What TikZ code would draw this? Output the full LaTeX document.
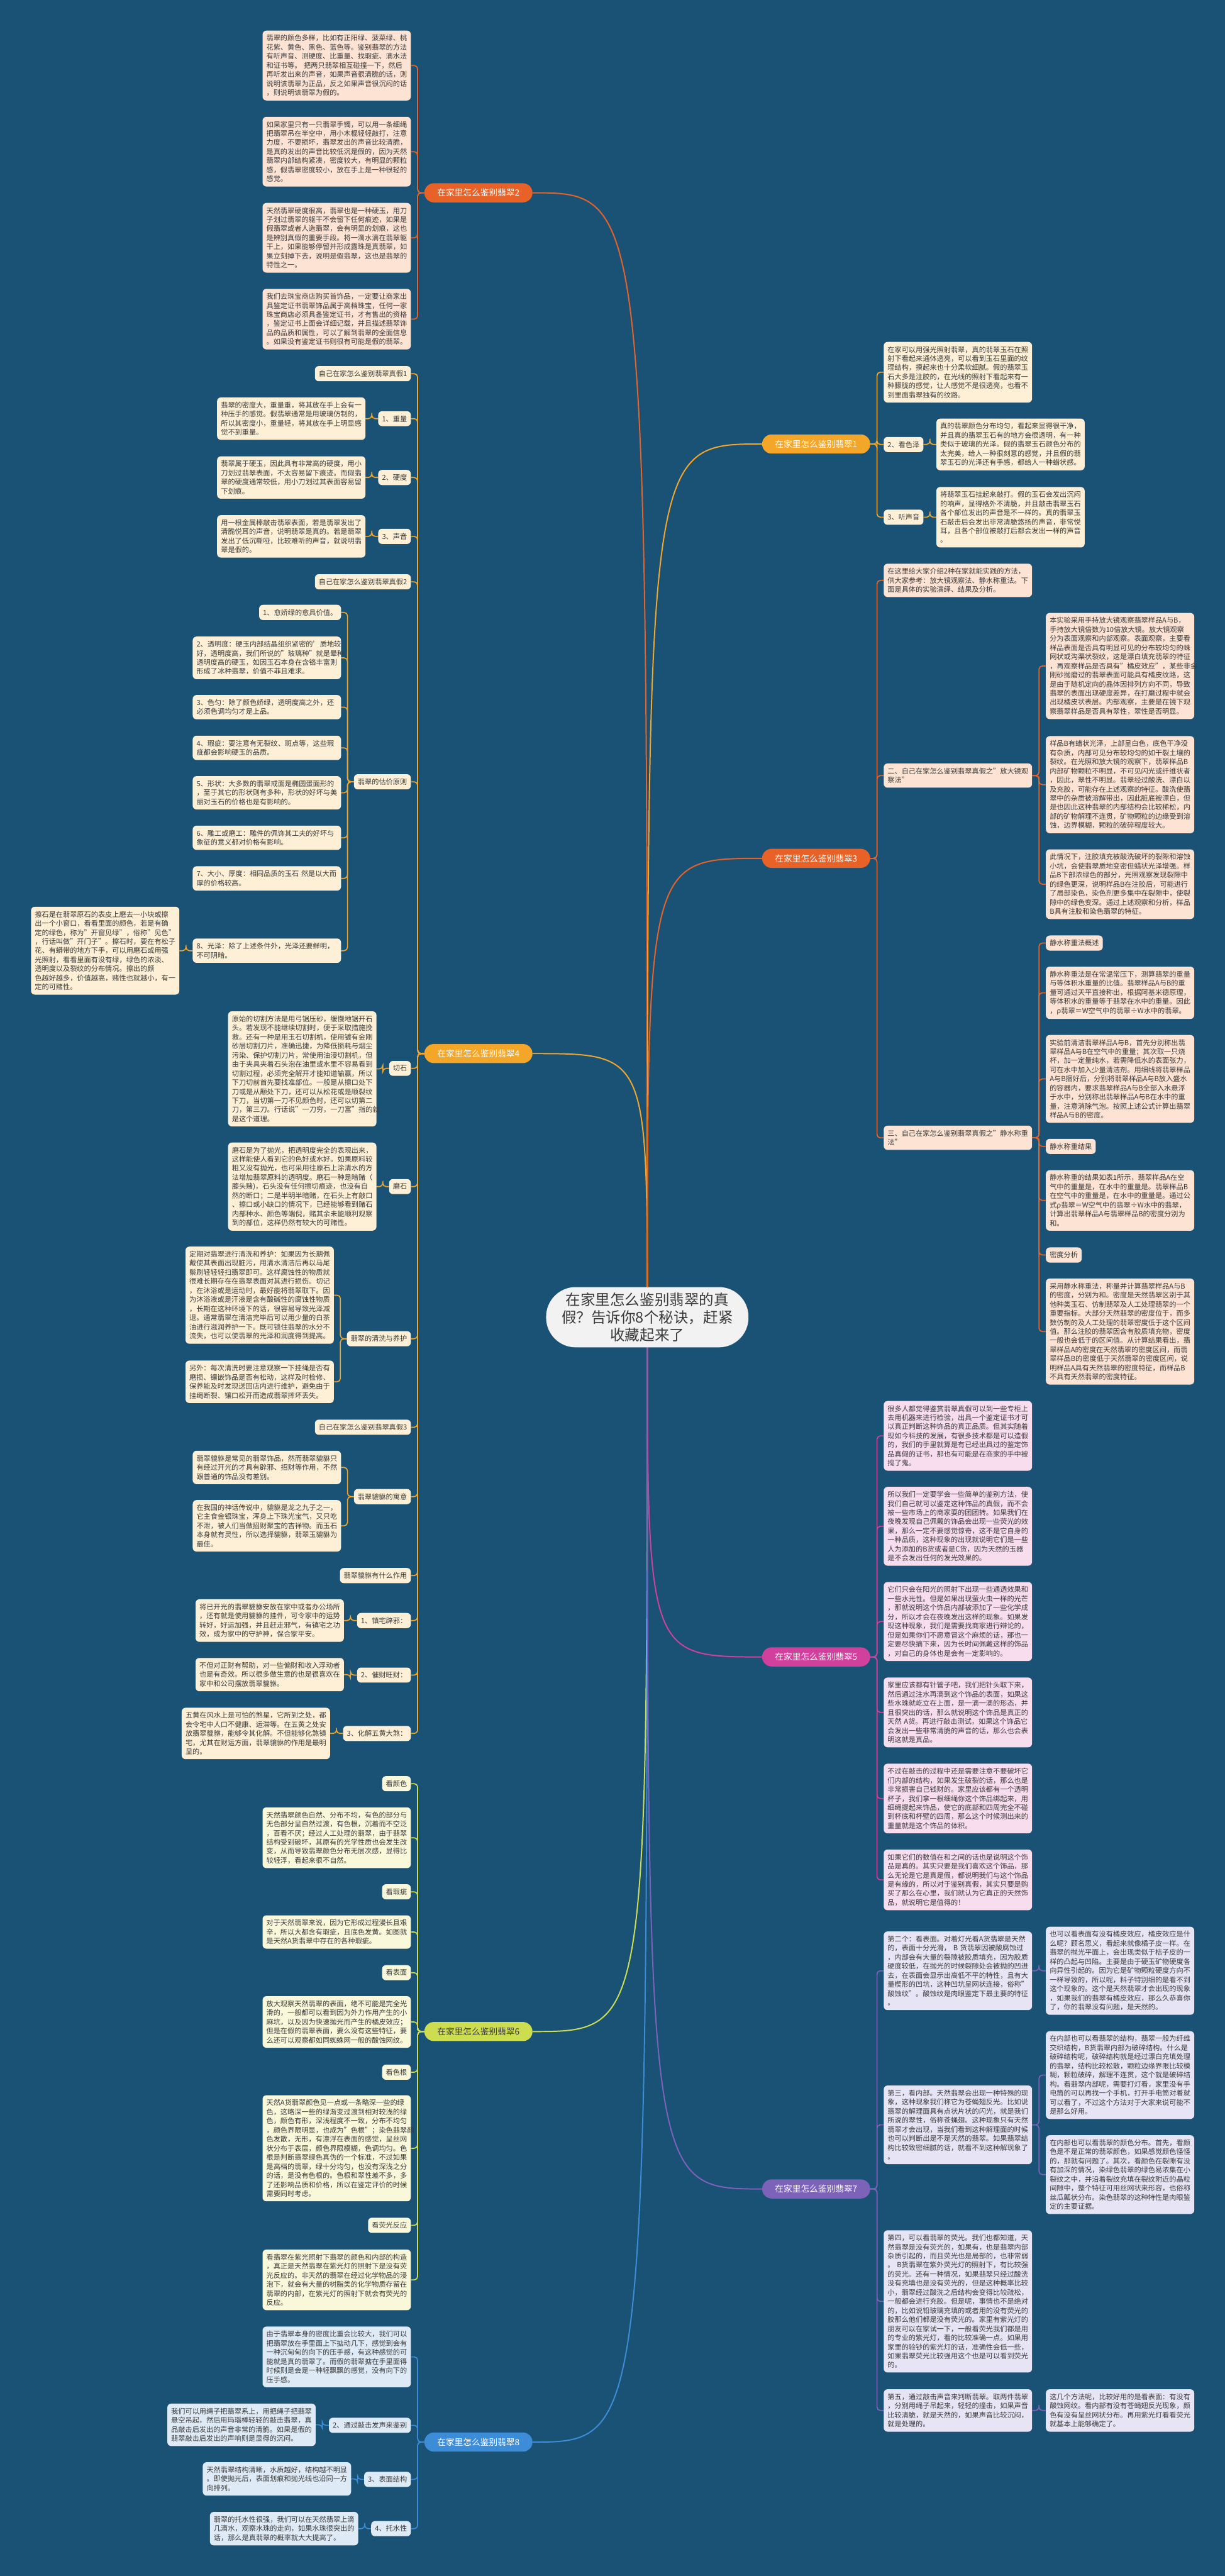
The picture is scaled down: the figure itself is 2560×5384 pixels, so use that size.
\documentclass[tikz,border=0pt]{standalone}
\usepackage{fontspec}
\setmainfont{Noto Sans CJK SC}
\usetikzlibrary{calc,backgrounds}
\setlength{\parindent}{0pt}
\definecolor{bgc}{RGB}{25,82,117}
\definecolor{cOR}{RGB}{232,98,40}
\definecolor{cAM}{RGB}{243,166,40}
\definecolor{cYG}{RGB}{204,222,80}
\definecolor{cBL}{RGB}{60,140,215}
\definecolor{cMG}{RGB}{208,64,156}
\definecolor{cPU}{RGB}{125,98,185}
\definecolor{fOR}{RGB}{252,227,211}
\definecolor{fAM}{RGB}{253,240,214}
\definecolor{fYG}{RGB}{250,248,218}
\definecolor{fBL}{RGB}{222,234,246}
\definecolor{fMG}{RGB}{247,221,238}
\definecolor{fPU}{RGB}{231,228,245}
\definecolor{txt}{RGB}{58,58,58}
\definecolor{cenf}{RGB}{242,242,242}
\newcommand\bxf{\fontsize{14.7pt}{19pt}\selectfont}
\newcommand\brf{\fontsize{18pt}{22pt}\selectfont}
\newcommand\cnf{\fontsize{31pt}{37pt}\selectfont}
\tikzset{
  box/.style={rounded corners=8pt, text width=294pt, align=left, inner xsep=8pt, inner ysep=9pt, font=\bxf, text=txt},
  lab/.style={rounded corners=8pt, inner xsep=8pt, inner ysep=9pt, font=\bxf, text=txt},
  brn/.style={rounded corners=20pt, minimum width=226pt, minimum height=40pt, inner sep=0pt, font=\brf, text=white},
  con/.style={line width=2.2pt, rounded corners=7pt, to path={-| ($(\tikztostart)!0.5!(\tikztotarget)$) |- (\tikztotarget)}},
  mainc/.style={line width=2.6pt},
  L/.style={anchor=east}, R/.style={anchor=west}
}
\begin{document}
\begin{tikzpicture}[x=1pt,y=-1pt]
\useasboundingbox (0,0) rectangle (2560,5384);
% central
\node[rounded corners=62pt, fill=cenf, text=txt, font=\cnf, align=center, minimum width=423pt, minimum height=126pt, inner sep=4pt] (cen) at (1353,2753) {在家里怎么鉴别翡翠的真\\假？告诉你8个秘诀，赶紧\\收藏起来了};
% branches
\node[brn, fill=cOR] (b2) at (1000,403) {在家里怎么鉴别翡翠2};
\node[brn, fill=cAM] (b4) at (1000,2202) {在家里怎么鉴别翡翠4};
\node[brn, fill=cYG, text=txt] (b6) at (1000,4246) {在家里怎么鉴别翡翠6};
\node[brn, fill=cBL] (b8) at (1000,5104) {在家里怎么鉴别翡翠8};
\node[brn, fill=cAM] (b1) at (1706,928) {在家里怎么鉴别翡翠1};
\node[brn, fill=cOR] (b3) at (1706,1794) {在家里怎么鉴别翡翠3};
\node[brn, fill=cMG] (b5) at (1706,3463) {在家里怎么鉴别翡翠5};
\node[brn, fill=cPU] (b7) at (1706,4575) {在家里怎么鉴别翡翠7};

% ---------- section 2 ----------
\node[box,L,fill=fOR] (a21) at (859,137) {翡翠的颜色多样，比如有正阳绿、菠菜绿、桃\\花紫、黄色、黑色、蓝色等。鉴别翡翠的方法\\有听声音、测硬度、比重量、找瑕疵、滴水法\\和证书等。~把两只翡翠相互碰撞一下，然后\\再听发出来的声音，如果声音很清脆的话，则\\说明该翡翠为正品，反之如果声音很沉闷的话\\，则说明该翡翠为假的。};
\node[box,L,fill=fOR] (a22) at (859,317) {如果家里只有一只翡翠手镯，可以用一条细绳\\把翡翠吊在半空中，用小木棍轻轻敲打，注意\\力度，不要损坏，翡翠发出的声音比较清脆，\\是真的发出的声音比较低沉是假的，因为天然\\翡翠内部结构紧凑，密度较大，有明显的颗粒\\感，假翡翠密度较小，放在手上是一种很轻的\\感觉。};
\node[box,L,fill=fOR] (a23) at (859,497) {天然翡翠硬度很高，翡翠也是一种硬玉，用刀\\子划过翡翠的躯干不会留下任何痕迹，如果是\\假翡翠或者人造翡翠，会有明显的划痕，这也\\是辨别真假的重要手段。将一滴水滴在翡翠躯\\干上，如果能够停留并形成露珠是真翡翠，如\\果立刻掉下去，说明是假翡翠，这也是翡翠的\\特性之一。};
\node[box,L,fill=fOR] (a24) at (859,667) {我们去珠宝商店购买首饰品，一定要让商家出\\具鉴定证书翡翠饰品属于高档珠宝，任何一家\\珠宝商店必须具备鉴定证书，才有售出的资格\\，鉴定证书上面会详细记载，并且描述翡翠饰\\品的品质和属性，可以了解到翡翠的全面信息\\。如果没有鉴定证书则很有可能是假的翡翠。};

% ---------- section 4 ----------
\node[lab,L,fill=fAM] (h41) at (859,781) {自己在家怎么鉴别翡翠真假1};
\node[lab,L,fill=fAM] (l41) at (859,875) {1、重量};
\node[box,L,fill=fAM] (x41) at (764,875) {翡翠的密度大，重量重，将其放在手上会有一\\种压手的感觉。假翡翠通常是用玻璃仿制的，\\所以其密度小，重量轻，将其放在手上明显感\\觉不到重量。};
\node[lab,L,fill=fAM] (l42) at (859,998) {2、硬度};
\node[box,L,fill=fAM] (x42) at (764,998) {翡翠属于硬玉，因此具有非常高的硬度，用小\\刀划过翡翠表面，不太容易留下痕迹。而假翡\\翠的硬度通常较低，用小刀划过其表面容易留\\下划痕。};
\node[lab,L,fill=fAM] (l43) at (859,1121) {3、声音};
\node[box,L,fill=fAM] (x43) at (764,1121) {用一根金属棒敲击翡翠表面，若是翡翠发出了\\清脆悦耳的声音，说明翡翠是真的。若是翡翠\\发出了低沉嘶哑，比较难听的声音，就说明翡\\翠是假的。};
\node[lab,L,fill=fAM] (h42) at (859,1216) {自己在家怎么鉴别翡翠真假2};
\node[lab,L,fill=fAM] (g4) at (859,1634) {翡翠的估价原则};
\node[lab,L,fill=fAM] (g41) at (713,1280) {1、愈娇绿的愈具价值。};
\node[box,L,fill=fAM] (g42) at (713,1375) {2、透明度：硬玉内部结晶组织紧密的'质地较\\好，透明度高，我们所说的"玻璃种"就是晕种\\透明度高的硬玉，如因玉石本身在含铬丰富则\\形成了冰种翡翠，价值不菲且难求。};
\node[box,L,fill=fAM] (g43) at (713,1478) {3、色匀：除了颜色娇绿，透明度高之外，还\\必须色调均匀才是上品。};
\node[box,L,fill=fAM] (g44) at (713,1563) {4、瑕疵：要注意有无裂纹、斑点等，这些瑕\\疵都会影响硬玉的品质。};
\node[box,L,fill=fAM] (g45) at (713,1657) {5、形状：大多数的翡翠戒面是椭圆蛋面形的\\，至于其它的形状则有多种，形状的好坏与美\\丽对玉石的价格也是有影响的。};
\node[box,L,fill=fAM] (g46) at (713,1751) {6、雕工或磨工：雕件的佩饰其工夫的好坏与\\象征的意义都对价格有影响。};
\node[box,L,fill=fAM] (g47) at (713,1836) {7、大小、厚度：相同品质的玉石~然是以大而\\厚的价格较高。};
\node[box,L,fill=fAM] (g48) at (713,1987) {8、光泽：除了上述条件外，光泽还要鲜明，\\不可阴暗。};
\node[box,L,fill=fAM] (g49) at (375,1987) {擦石是在翡翠原石的表皮上磨去一小块或擦\\出一个小窗口，看看里面的颜色，若是有确\\定的绿色，称为"开窗见绿"，俗称"见色"\\，行话叫做"开门子"。擦石时，要在有松子\\花、有蟒带的地方下手，可以用磨石或用强\\光照射，看看里面有没有绿，绿色的浓淡、\\透明度以及裂纹的分布情况。擦出的颜\\色越好越多，价值越高，赌性也就越小，有一\\定的可赌性。};
\node[lab,L,fill=fAM] (q4) at (859,2233) {切石};
\node[box,L,fill=fAM] (q4b) at (787,2234) {原始的切割方法是用弓锯压砂，缓慢地锯开石\\头。若发现不能继续切割时，便于采取措施挽\\救。还有一种是用玉石切割机，使用镀有金刚\\砂层切割刀片，准确迅捷，为降低损耗与烟尘\\污染、保护切割刀片，常使用油浸切割机，但\\由于夹具夹着石头泡在油里或水里不容易看到\\切割过程，必须完全解开才能知道输赢，所以\\下刀切前首先要找准部位。一般是从擦口处下\\刀或是从颟处下刀，还可以从松花或是顺裂纹\\下刀，当切第一刀不见颜色时，还可以切第二\\刀，第三刀。行话说"一刀穷，一刀富"指的就\\是这个道理。};
\node[lab,L,fill=fAM] (m4) at (859,2480) {磨石};
\node[box,L,fill=fAM] (m4b) at (787,2480) {磨石是为了抛光，把透明度完全的表现出来，\\这样能使人看到它的色好或水好。如果原料较\\粗又没有抛光，也可采用往原石上涂清水的方\\法增加翡翠原料的透明度。磨石一种是暗赌（\\膝头赌)，石头没有任何擦切痕迹，也没有自\\然的断口；二是半明半暗赌，在石头上有敲口\\、擦口或小缺口的情况下，已经能够看到赌石\\内部种水、颜色等端倪，赌其余未能顺利观察\\到的部位，这样仍然有较大的可赌性。};
\node[lab,L,fill=fAM] (c4) at (859,2798) {翡翠的清洗与养护};
\node[box,L,fill=fAM] (c4a) at (698,2707) {定期对翡翠进行清洗和养护：如果因为长期佩\\戴使其表面出现脏污，用清水清洁后再以马尾\\鬃刷轻轻轻扫翡翠即可。这样腐蚀性的物质就\\很难长期存在在翡翠表面对其进行损伤。切记\\，在沐浴或是运动时，最好能将翡翠取下。因\\为沐浴液或是汗液是含有酸碱性的腐蚀性物质\\，长期在这种环境下的话，很容易导致光泽减\\退。通常翡翠在清洁完毕后可以用少量的白茶\\油进行滋润养护一下。既可锁住翡翠的水分不\\流失，也可以使翡翠的光泽和润度得到提高。};
\node[box,L,fill=fAM] (c4b) at (698,2888) {另外：每次清洗时要注意观察一下挂绳是否有\\磨损、镶嵌饰品是否有松动，这样及时检修、\\保养能及时发现送回店内进行维护，避免由于\\挂绳断裂、镶口松开而造成翡翠摔坏丢失。};
\node[lab,L,fill=fAM] (h43) at (859,2983) {自己在家怎么鉴别翡翠真假3};
\node[lab,L,fill=fAM] (p4) at (859,3128) {翡翠貔貅的寓意};
\node[box,L,fill=fAM] (p4a) at (713,3067) {翡翠貔貅是常见的翡翠饰品，然而翡翠貔貅只\\有经过开光的才具有辟邪、招财等作用，不然\\跟普通的饰品没有差别。};
\node[box,L,fill=fAM] (p4b) at (713,3189) {在我国的神话传说中，貔貅是龙之九子之一，\\它主食金银珠宝，浑身上下珠光宝气，又只吃\\不泄，被人们当做招财聚宝的吉祥物。而玉石\\本身就有灵性，所以选择貔貅，翡翠玉貔貅为\\最佳。};
\node[lab,L,fill=fAM] (p5) at (859,3293) {翡翠貔貅有什么作用};
\node[lab,L,fill=fAM] (z1) at (859,3387) {1、镇宅辟邪：};
\node[box,L,fill=fAM] (z1b) at (719,3387) {将已开光的翡翠貔貅安放在家中或者办公场所\\，还有就是使用貔貅的挂件，可令家中的运势\\转好，好运加强，并且赶走邪气，有镇宅之功\\效，成为家中的守护神，保合家平安。};
\node[lab,L,fill=fAM] (z2) at (859,3501) {2、催财旺财：};
\node[box,L,fill=fAM] (z2b) at (719,3500) {不但对正财有帮助，对一些偏财和收入浮动者\\也是有奇效。所以很多做生意的也是很喜欢在\\家中和公司摆放翡翠貔貅。};
\node[lab,L,fill=fAM] (z3) at (859,3623) {3、化解五黄大煞：};
\node[box,L,fill=fAM] (z3b) at (690,3623) {五黄在风水上是可怕的煞星，它所到之处，都\\会令宅中人口不健康、运滞等。在五黄之处安\\放翡翠貔貅，能够令其化解。不但能够化煞镇\\宅，尤其在财运方面，翡翠貔貅的作用是最明\\显的。};

% ---------- section 6 ----------
\node[lab,L,fill=fYG] (k1) at (859,3728) {看颜色};
\node[box,L,fill=fYG] (k2) at (859,3841) {天然翡翠颜色自然、分布不均，有色的部分与\\无色部分呈自然过渡，有色根，沉着而不空泛\\，百看不厌；经过人工处理的翡翠，由于翡翠\\结构受到破坏，其原有的光学性质也会发生改\\变，从而导致翡翠颜色分布无层次感，显得比\\较轻浮，看起来很不自然。};
\node[lab,L,fill=fYG] (k3) at (859,3954) {看瑕疵};
\node[box,L,fill=fYG] (k4) at (859,4038) {对于天然翡翠来说，因为它形成过程漫长且艰\\辛，所以大都含有瑕疵，且底色发黄。如图就\\是天然A货翡翠中存在的各种瑕疵。};
\node[lab,L,fill=fYG] (k5) at (859,4123) {看表面};
\node[box,L,fill=fYG] (k6) at (859,4226) {放大观察天然翡翠的表面，绝不可能是完全光\\滑的，一般都可以看到因为外力作用产生的小\\麻坑，以及因为快速抛光而产生的橘皮效应；\\但是在假的翡翠表面，要么没有这些特征，要\\么还可以观察都如同蜘蛛网一般的酸蚀网纹。};
\node[lab,L,fill=fYG] (k7) at (859,4331) {看色根};
\node[box,L,fill=fYG] (k8) at (859,4490) {天然A货翡翠颜色见一点或一条略深一些的绿\\色，这略深一些的绿渐变过渡到相对较浅的绿\\色，颜色有形，深浅程度不一致，分布不均匀\\，颜色界限明显，也成为"色根"；染色翡翠颜\\色发散，无形，有漂浮在表面的感觉，呈丝网\\状分布于表层，颜色界限模糊，色调均匀。色\\根是判断翡翠绿色真伪的一个标准，不过如果\\是高档的翡翠，绿十分均匀，也没有深浅之分\\的话，是没有色根的。色根和翠性差不多，多\\了还影响品质和价格，所以在鉴定评价的时候\\需要同时考虑。};
\node[lab,L,fill=fYG] (k9) at (859,4651) {看荧光反应};
\node[box,L,fill=fYG] (k10) at (859,4765) {看翡翠在紫光照射下翡翠的颜色和内部的构造\\，真正是天然翡翠在紫光灯的照射下是没有荧\\光反应的。非天然的翡翠在经过化学物品的浸\\泡下，就会有大量的树脂类的化学物质存留在\\翡翠的内部，在紫光灯的照射下就会有荧光的\\反应。};

% ---------- section 8 ----------
\node[box,L,fill=fBL] (n1) at (859,4926) {由于翡翠本身的密度比重会比较大，我们可以\\把翡翠放在手里面上下掂动几下，感觉到会有\\一种沉甸甸的向下的压手感，有这种感觉的可\\能就是真的翡翠了。而假的翡翠掂在手里面得\\时候则是会是一种轻飘飘的感觉，没有向下的\\压手感。};
\node[lab,L,fill=fBL] (n2) at (859,5069) {2、通过敲击发声来鉴别};
\node[box,L,fill=fBL] (n2b) at (660,5068) {我们可以用绳子把翡翠系上，用把绳子把翡翠\\悬空吊起，然后用玛瑙棒轻轻的敲击翡翠，真\\品敲击后发出的声音非常的清脆。如果是假的\\翡翠敲击后发出的声响则是显得的沉闷。};
\node[lab,L,fill=fBL] (n3) at (859,5182) {3、表面结构};
\node[box,L,fill=fBL] (n3b) at (734,5181) {天然翡翠结构清晰，水质越好，结构越不明显\\。即使抛光后，表面划痕和抛光线也沿同一方\\向排列。};
\node[lab,L,fill=fBL] (n4) at (859,5285) {4、托水性};
\node[box,L,fill=fBL] (n4b) at (749,5285) {翡翠的托水性很强，我们可以在天然翡翠上滴\\几滴水，观察水珠的走向，如果水珠很突出的\\话，那么是真翡翠的概率就大大提高了。};

% ---------- section 1 ----------
\node[box,R,fill=fAM] (r11) at (1847,778) {在家可以用强光照射翡翠，真的翡翠玉石在照\\射下看起来通体透亮，可以看到玉石里面的纹\\理结构，摸起来也十分柔软细腻。假的翡翠玉\\石大多是注胶的，在光线的照射下看起来有一\\种朦胧的感觉，让人感觉不是很透亮，也看不\\到里面翡翠独有的纹路。};
\node[lab,R,fill=fAM] (r12) at (1847,929) {2、看色泽};
\node[box,R,fill=fAM] (r12b) at (1957,929) {真的翡翠颜色分布均匀，看起来显得很干净，\\并且真的翡翠玉石有的地方会很透明，有一种\\类似于玻璃的光泽。假的翡翠玉石颜色分布的\\太完美，给人一种很刻意的感觉，并且假的翡\\翠玉石的光泽还有手感，都给人一种蜡状感。};
\node[lab,R,fill=fAM] (r13) at (1847,1081) {3、听声音};
\node[box,R,fill=fAM] (r13b) at (1957,1081) {将翡翠玉石挂起来敲打。假的玉石会发出沉闷\\的响声，显得格外不清脆，并且敲击翡翠玉石\\各个部位发出的声音是不一样的。真的翡翠玉\\石敲击后会发出非常清脆悠扬的声音，非常悦\\耳，且各个部位被敲打后都会发出一样的声音\\。};

% ---------- section 3 ----------
\node[box,R,fill=fOR] (r31) at (1847,1213) {在这里给大家介绍2种在家就能实践的方法，\\供大家参考：放大镜观察法、静水称重法。下\\面是具体的实验演绎、结果及分析。};
\node[box,R,fill=fOR] (e2) at (1847,1621) {二、自己在家怎么鉴别翡翠真假之"放大镜观\\察法"};
\node[box,R,fill=fOR] (e21) at (2186,1392) {本实验采用手持放大镜观察翡翠样品A与B，\\手持放大镜倍数为10倍放大镜。放大镜观察\\分为表面观察和内部观察。表面观察，主要看\\样品表面是否具有明显可见的分布较均匀的蛛\\网状或沟渠状裂纹，这是漂白填充翡翠的特征\\，再观察样品是否具有"橘皮效应"，某些非金\\刚砂抛磨过的翡翠表面可能具有橘皮纹路，这\\是由于随机定向的晶体因排列方向不同，导致\\翡翠的表面出现硬度差异，在打磨过程中就会\\出现橘皮状表层。内部观察，主要是在镜下观\\察翡翠样品是否具有翠性，翠性是否明显。};
\node[box,R,fill=fOR] (e22) at (2186,1640) {样品B有蜡状光泽，上部呈白色，底色干净没\\有杂质，内部可见分布较均匀的如干裂土壤的\\裂纹。在光照和放大镜的观察下，翡翠样品B\\内部矿物颗粒不明显，不可见闪光或纤维状者\\，因此，翠性不明显。翡翠经过酸洗、漂白以\\及充胶，可能存在上述观察的特征。酸洗使翡\\翠中的杂质被溶解带出，因此脏底被漂白，但\\是也因此这种翡翠的内部结构会比较稀松，内\\部的矿物解理不连贯，矿物颗粒的边缘受到溶\\蚀，边界模糊，颗粒的破碎程度较大。};
\node[box,R,fill=fOR] (e23) at (2186,1848) {此情况下，注胶填充被酸洗破坏的裂隙和溶蚀\\小坑，会使翡翠质地变密但蜡状光泽增强。样\\品B下部浓绿色的部分，光照观察发现裂隙中\\的绿色更深，说明样品B在注胶后，可能进行\\了局部染色，染色剂更多集中在裂隙中，使裂\\隙中的绿色变深。通过上述观察和分析，样品\\B具有注胶和染色翡翠的特征。};
\node[box,R,fill=fOR] (e3) at (1847,2378) {三、自己在家怎么鉴别翡翠真假之"静水称重\\法"};
\node[lab,R,fill=fOR] (e31) at (2186,1971) {静水称重法概述};
\node[box,R,fill=fOR] (e32) at (2186,2075) {静水称重法是在常温常压下，测算翡翠的重量\\与等体积水重量的比值。翡翠样品A与B的重\\量可通过天平直接称出，根据阿基米德原理，\\等体积水的重量等于翡翠在水中的重量。因此\\，ρ翡翠＝W空气中的翡翠÷W水中的翡翠。};
\node[box,R,fill=fOR] (e33) at (2186,2255) {实验前清洁翡翠样品A与B，首先分别称出翡\\翠样品A与B在空气中的重量；其次取一只烧\\杯，加一定量纯水，若需降低水的表面张力，\\可在水中加入少量清洁剂。用细线将翡翠样品\\A与B捆好后，分别将翡翠样品A与B放入盛水\\的容器内，要求翡翠样品A与B全部入水悬浮\\于水中，分别称出翡翠样品A与B在水中的重\\量，注意消除气泡。按照上述公式计算出翡翠\\样品A与B的密度。};
\node[lab,R,fill=fOR] (e34) at (2186,2396) {静水称重结果};
\node[box,R,fill=fOR] (e35) at (2186,2509) {静水称重的结果如表1所示，翡翠样品A在空\\气中的重量是，在水中的重量是。翡翠样品B\\在空气中的重量是，在水中的重量是。通过公\\式ρ翡翠＝W空气中的翡翠÷W水中的翡翠，\\计算出翡翠样品A与翡翠样品B的密度分别为\\和。};
\node[lab,R,fill=fOR] (e36) at (2186,2623) {密度分析};
\node[box,R,fill=fOR] (e37) at (2186,2783) {采用静水称重法，称量并计算翡翠样品A与B\\的密度，分别为和。密度是天然翡翠区别于其\\他种类玉石、仿制翡翠及人工处理翡翠的一个\\重要指标。大部分天然翡翠的密度位于，而多\\数仿制的及人工处理的翡翠密度低于这个区间\\值。那么注胶的翡翠因含有胶质填充物，密度\\一般也会低于的区间值。从计算结果看出，翡\\翠样品A的密度在天然翡翠的密度区间，而翡\\翠样品B的密度低于天然翡翠的密度区间，说\\明样品A具有天然翡翠的密度特征，而样品B\\不具有天然翡翠的密度特征。};

% ---------- section 5 ----------
\node[box,R,fill=fMG] (r51) at (1847,3001) {很多人都觉得鉴赏翡翠真假可以到一些专柜上\\去用机器来进行检验，出具一个鉴定证书才可\\以真正判断这种饰品的真正品质。但其实随着\\现如今科技的发展，有很多技术都是可以造假\\的，我们的手里就算是有已经出具过的鉴定饰\\品真假的证书，那也有可能是在商家的手中被\\捣了鬼。};
\node[box,R,fill=fMG] (r52) at (1847,3190) {所以我们一定要学会一些简单的鉴别方法，使\\我们自己就可以鉴定这种饰品的真假，而不会\\被一些市场上的商家耍的团团转。如果我们在\\夜晚发现自己佩戴的饰品会出现一些荧光的效\\果，那么一定不要感觉惊奇，这不是它自身的\\一种品质，这种现象的出现就说明它们是一些\\人为添加的B货或者是C货，因为天然的玉器\\是不会发出任何的发光效果的。};
\node[box,R,fill=fMG] (r53) at (1847,3389) {它们只会在阳光的照射下出现一些通透效果和\\一些水光性。但是如果出现萤火虫一样的光芒\\，那就说明这个饰品内部被添加了一些化学成\\分，所以才会在夜晚发出这样的现象。如果发\\现这种现象，我们是需要找商家进行辩论的，\\但是如果你们不愿意冒这个麻烦的话，那也一\\定要尽快摘下来，因为长时间佩戴这样的饰品\\，对自己的身体也是会有一定影响的。};
\node[box,R,fill=fMG] (r54) at (1847,3579) {家里应该都有针管子吧，我们把针头取下来，\\然后通过注水再滴到这个饰品的表面，如果这\\些水珠就屹立在上面，是一滴一滴的形态，并\\且很突出的话，那么就说明这个饰品是真正的\\天然~A货。再进行敲击测试，如果这个饰品它\\会发出一些非常清脆的声音的话，那么也会表\\明这就是真品。};
\node[box,R,fill=fMG] (r55) at (1847,3759) {不过在敲击的过程中还是需要注意不要破坏它\\们内部的结构，如果发生破裂的话，那么也是\\非常损害自己钱财的。家里应该都有一个透明\\杯子，我们拿一根细绳你这个饰品绑起来，用\\细绳提起来饰品，使它的底部和四周完全不碰\\到杯底和杯壁的四周，那么这个时候测出来的\\重量就是这个饰品的体积。};
\node[box,R,fill=fMG] (r56) at (1847,3929) {如果它们的数值在和之间的话也是说明这个饰\\品是真的。其实只要是我们喜欢这个饰品，那\\么无论是它是真是假，都说明我们与这个饰品\\是有缘的，所以对于鉴别真假，其实只要是购\\买了那么在心里，我们就认为它真正的天然饰\\品，就说明它是值得的！};

% ---------- section 7 ----------
\node[box,R,fill=fPU] (t1) at (1847,4119) {第二个：看表面。对着灯光看A货翡翠是天然\\的，表面十分光滑，~B~货翡翠因被酸腐蚀过\\，内部会有大量的裂隙被胶质填充，因为胶质\\硬度较低，在抛光的时候裂隙处会被抛的凹进\\去，在表面会显示出高低不平的特性，且有大\\量楔形的凹坑，这种凹坑呈网状连接，俗称"\\酸蚀纹"。酸蚀纹是肉眼鉴定下最主要的特征\\。};
\node[box,R,fill=fPU] (t1b) at (2186,4119) {也可以看表面有没有橘皮效应，橘皮效应是什\\么呢？顾名思义，看起来就像橘子皮一样。在\\翡翠的抛光平面上，会出现类似于桔子皮的一\\样的凸起与凹陷。主要是由于硬玉矿物硬度各\\向异性引起的。因为它是矿物颗粒硬度方向不\\一样导致的，所以呢，料子特别细的是看不到\\这个现象的。这个是天然翡翠才会出现的现象\\，如果我们的翡翠有橘皮效应，那么久恭喜你\\了，你的翡翠没有问题，是天然的。};
\node[box,R,fill=fPU] (t2) at (1847,4441) {第三，看内部。天然翡翠会出现一种特殊的现\\象，这种现象我们称它为苍蝇翅反光。比如说\\翡翠的解理面具有点状片状的闪光，就是我们\\所说的翠性，俗称苍蝇翅。这种现象只有天然\\翡翠才会出现，当我们看到这种解理面的时候\\也可以判断出是不是天然的翡翠。如果翡翠结\\构比较致密细腻的话，就看不到这种解现象了\\。};
\node[box,R,fill=fPU] (t2a) at (2186,4337) {在内部也可以看翡翠的结构，翡翠一般为纤维\\交织结构，B货翡翠内部为破碎结构。什么是\\破碎结构呢，破碎结构就是经过漂白充填处理\\的翡翠，结构比较松散，颗粒边缘界限比较模\\糊，颗粒破碎，解理不连贯，这个就是破碎结\\构。看翡翠内部呢，需要打灯看，家里没有手\\电筒的可以再找一个手机，打开手电筒对着就\\可以看了，不过这个方法对于大家来说可能不\\是那么好用。};
\node[box,R,fill=fPU] (t2b) at (2186,4545) {在内部也可以看翡翠的颜色分布。首先，看颜\\色是不是正常的翡翠颜色，如果感觉颜色怪怪\\的，那就有问题了。其次，看颜色在裂隙有没\\有加深的情况，染绿色翡翠的绿色易浓集在小\\裂纹之中，并沿着裂纹充填在裂纹附近的晶粒\\间隙中，整个特征可用丝网状来形容，也俗称\\丝瓜瓤状分布。染色翡翠的这种特性是肉眼鉴\\定的主要证据。};
\node[box,R,fill=fPU] (t3) at (1847,4810) {第四，可以看翡翠的荧光。我们也都知道，天\\然翡翠是没有荧光的，如果有，也是翡翠内部\\杂质引起的，而且荧光也是局部的，也非常弱\\。~B货翡翠在紫外荧光灯的照射下，有比较强\\的荧光。还有一种情况，如果翡翠只经过酸洗\\没有充填也是没有荧光的，但是这种概率比较\\小，翡翠经过酸洗之后结构会变得比较疏松，\\一般都会进行充胶。但是呢，事情也不是绝对\\的，比如说铅玻璃充填的或者用的没有荧光的\\胶那么他们都是没有荧光的。家里有紫光灯的\\朋友可以在家试一下，一般看荧光我们都是用\\的专业的紫光灯，看的比较准确一点。如果用\\家里的验钞的紫光灯的话，准确性会低一些，\\如果翡翠荧光比较强用这个也是可以看到荧光\\的。};
\node[box,R,fill=fPU] (t4) at (1847,5038) {第五，通过敲击声音来判断翡翠。取两件翡翠\\，分别用绳子吊起来，轻轻的撞击，如果声音\\比较清脆，就是天然的，如果声音比较沉闷，\\就是处理的。};
\node[box,R,fill=fPU] (t4b) at (2186,5038) {这几个方法呢，比较好用的是看表面：有没有\\酸蚀网纹。看内部有没有苍蝇翅反光现象，颜\\色有没有呈丝网状分布。再用紫光灯看看荧光\\就基本上能够确定了。};

% ---------- connectors ----------
\begin{scope}[on background layer]
\fill[bgc] (0,0) rectangle (2560,5384);
\draw[mainc,cOR] (cen.center) .. controls (cen.center |- b2.east) .. (b2.east);
\draw[mainc,cAM] (cen.center) .. controls (cen.center |- b4.east) .. (b4.east);
\draw[mainc,cYG] (cen.center) .. controls (cen.center |- b6.east) .. (b6.east);
\draw[mainc,cBL] (cen.center) .. controls (cen.center |- b8.east) .. (b8.east);
\draw[mainc,cAM] (cen.center) .. controls (cen.center |- b1.west) .. (b1.west);
\draw[mainc,cOR] (cen.center) .. controls (cen.center |- b3.west) .. (b3.west);
\draw[mainc,cMG] (cen.center) .. controls (cen.center |- b5.west) .. (b5.west);
\draw[mainc,cPU] (cen.center) .. controls (cen.center |- b7.west) .. (b7.west);
% section 2
\foreach \c in {a21,a22,a23,a24} \draw[con,cOR] (b2.west) to (\c.east);
% section 4
\foreach \c in {h41,l41,l42,l43,h42,g4,q4,m4,c4,h43,p4,p5,z1,z2,z3} \draw[con,cAM] (b4.west) to (\c.east);
\draw[con,cAM] (l41.west) to (x41.east);
\draw[con,cAM] (l42.west) to (x42.east);
\draw[con,cAM] (l43.west) to (x43.east);
\foreach \c in {g41,g42,g43,g44,g45,g46,g47,g48} \draw[con,cAM] (g4.west) to (\c.east);
\draw[con,cAM] (g48.west) to (g49.east);
\draw[con,cAM] (q4.west) to (q4b.east);
\draw[con,cAM] (m4.west) to (m4b.east);
\draw[con,cAM] (c4.west) to (c4a.east);
\draw[con,cAM] (c4.west) to (c4b.east);
\draw[con,cAM] (p4.west) to (p4a.east);
\draw[con,cAM] (p4.west) to (p4b.east);
\draw[con,cAM] (z1.west) to (z1b.east);
\draw[con,cAM] (z2.west) to (z2b.east);
\draw[con,cAM] (z3.west) to (z3b.east);
% section 6
\foreach \c in {k1,k2,k3,k4,k5,k6,k7,k8,k9,k10} \draw[con,cYG] (b6.west) to (\c.east);
% section 8
\foreach \c in {n1,n2,n3,n4} \draw[con,cBL] (b8.west) to (\c.east);
\draw[con,cBL] (n2.west) to (n2b.east);
\draw[con,cBL] (n3.west) to (n3b.east);
\draw[con,cBL] (n4.west) to (n4b.east);
% section 1
\foreach \c in {r11,r12,r13} \draw[con,cAM] (b1.east) to (\c.west);
\draw[con,cAM] (r12.east) to (r12b.west);
\draw[con,cAM] (r13.east) to (r13b.west);
% section 3
\foreach \c in {r31,e2,e3} \draw[con,cOR] (b3.east) to (\c.west);
\foreach \c in {e21,e22,e23} \draw[con,cOR] (e2.east) to (\c.west);
\foreach \c in {e31,e32,e33,e34,e35,e36,e37} \draw[con,cOR] (e3.east) to (\c.west);
% section 5
\foreach \c in {r51,r52,r53,r54,r55,r56} \draw[con,cMG] (b5.east) to (\c.west);
% section 7
\foreach \c in {t1,t2,t3,t4} \draw[con,cPU] (b7.east) to (\c.west);
\draw[con,cPU] (t1.east) to (t1b.west);
\draw[con,cPU] (t2.east) to (t2a.west);
\draw[con,cPU] (t2.east) to (t2b.west);
\draw[con,cPU] (t4.east) to (t4b.west);
\end{scope}
\end{tikzpicture}
\end{document}
